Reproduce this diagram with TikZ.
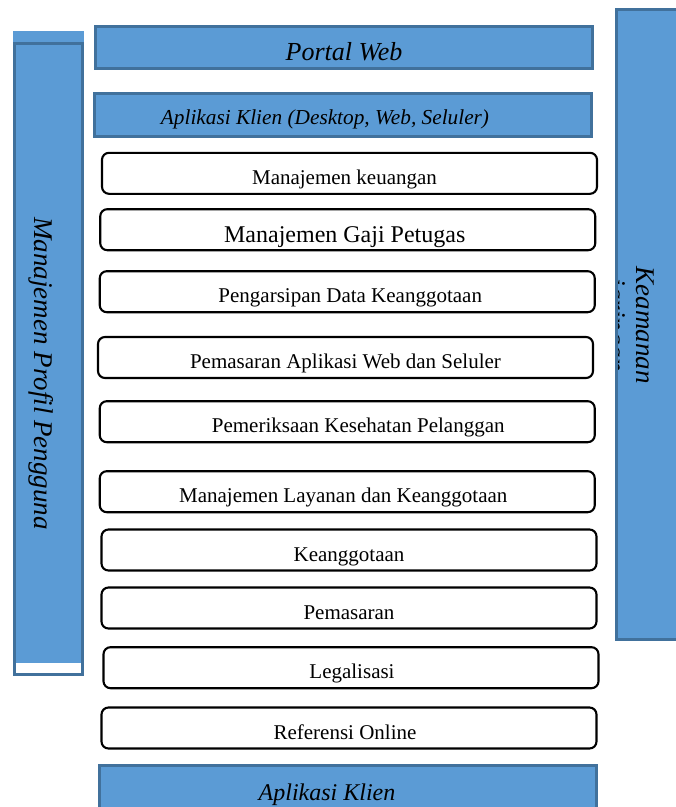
\documentclass[tikz,border=0pt]{standalone}
\usepackage{fontspec}
\setmainfont{Liberation Serif}
\definecolor{barfill}{HTML}{5B9BD5}
\definecolor{barline}{HTML}{41719C}
\tikzset{
  bluebox/.style={draw=barline, line width=3pt, fill=barfill, inner sep=0pt, outer sep=0pt},
  modbox/.style={draw=black, line width=2.1pt, fill=white, rounded corners=7pt,
    minimum width=495pt, minimum height=41pt, inner sep=0pt, outer sep=0pt,
    text height=24pt, text depth=2pt, font=\fontsize{21}{25}\selectfont},
  sidetext/.style={rotate=-90, anchor=base, inner sep=0pt, font=\fontsize{27}{31}\selectfont\itshape},
}
\begin{document}
\begin{tikzpicture}[x=1pt,y=-1pt]
\useasboundingbox (0,0) rectangle (676,807);

% left column: user profile management
\fill[barfill] (13,31) rectangle (84,43);
\node[bluebox, minimum width=68pt, minimum height=631pt] (leftbar) at (48.5,359) {};
\fill[white] (16,663) rectangle (81,673);
\node[sidetext] (leftlabel) at (34.5,373.5) {Manajemen Profil Pengguna};

% right column: network security
\node[bluebox, minimum width=83.5pt, minimum height=630pt] (rightbar) at (658.25,324.5) {};
\begin{scope}
  \clip ([shift={(1.5,1.5)}]rightbar.north west) rectangle ([shift={(0,-1.5)}]rightbar.south east);
  \node[sidetext] (secline1) at (636,325) {Keamanan};
  \node[sidetext] (secline2) at (607,325) {jaringan};
\end{scope}

% top layers
\node[bluebox, minimum width=497pt, minimum height=42pt, text height=27pt, text depth=2pt,
  font=\fontsize{26}{30}\selectfont\itshape] (portal) at (344,47.5) {Portal Web};
\node[bluebox, minimum width=497pt, minimum height=43pt, text height=20pt, text depth=2pt,
  font=\fontsize{21.3}{25}\selectfont\itshape] (client) at (343,115) {\kern-36pt Aplikasi Klien (Desktop, Web, Seluler)};

% service modules
\node[modbox] (m1) at (349.5,173.3) {\kern-10pt Manajemen keuangan};
\node[modbox, text height=26pt, text depth=1pt, font=\fontsize{24}{28}\selectfont] (m2) at (347.75,229.7) {\kern-6pt Manajemen Gaji Petugas};
\node[modbox] (m3) at (347.25,291.7) {\kern6pt Pengarsipan Data Keanggotaan};
\node[modbox] (m4) at (345.5,357.5) {Pemasaran Aplikasi Web dan Seluler};
\node[modbox] (m5) at (347.25,421.7) {\kern22pt Pemeriksaan Kesehatan Pelanggan};
\node[modbox] (m6) at (347.25,491.7) {\kern-8pt Manajemen Layanan dan Keanggotaan};
\node[modbox] (m7) at (349,550) {Keanggotaan};
\node[modbox] (m8) at (349,608) {Pemasaran};
\node[modbox] (m9) at (351,667.7) {\kern2pt Legalisasi};
\node[modbox] (m10) at (349,728) {\kern-8pt Referensi Online};

% bottom layer
\node[bluebox, minimum width=497pt, minimum height=49pt, text height=22pt, text depth=2pt,
  font=\fontsize{24}{28}\selectfont\itshape] (clientbottom) at (348,790) {\kern-42pt Aplikasi Klien};
\end{tikzpicture}
\end{document}
